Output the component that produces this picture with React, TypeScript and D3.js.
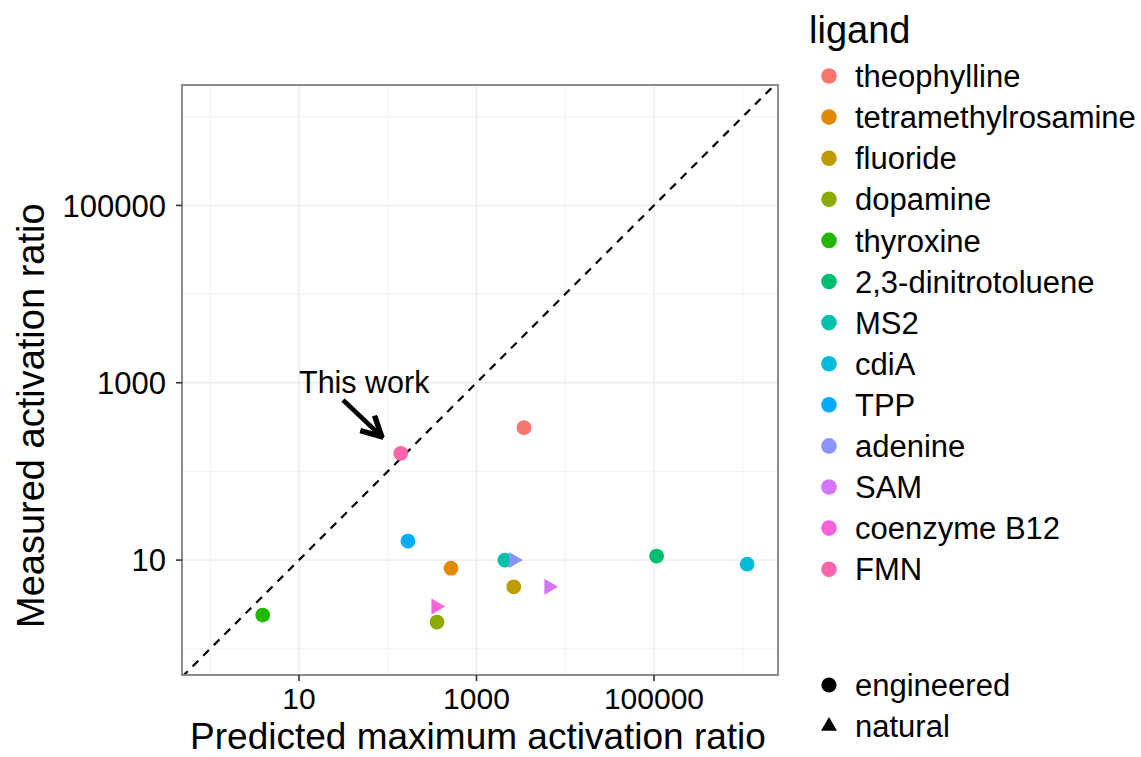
import * as d3 from "d3";
import React, { useRef, useEffect } from "react";

// ligand levels, in legend order, with ggplot's default hue palette
const ligands = [
  "theophylline", "tetramethylrosamine", "fluoride", "dopamine", "thyroxine",
  "2,3-dinitrotoluene", "MS2", "cdiA", "TPP", "adenine", "SAM", "coenzyme B12", "FMN",
];
const ligandColors = [
  "#F8766D", "#E18A00", "#BE9C00", "#8CAB00", "#24B700", "#00BE70", "#00C1AB",
  "#00BBDA", "#00ACFC", "#8B93FF", "#D575FE", "#F962DD", "#FF65AC",
];

// one point per ligand (same order as above)
const predicted = [3430, 516, 2630, 359, 3.9, 107000, 2090, 1120000, 169, 2630, 6560, 350, 140];
const measured = [311, 8.1, 5.0, 2.0, 2.4, 11.1, 10, 9.0, 16.4, 10, 5.0, 3.0, 160];
const origin = [
  "engineered", "engineered", "engineered", "engineered", "engineered", "engineered",
  "engineered", "engineered", "engineered", "natural", "natural", "natural", "engineered",
];

const originLevels = ["engineered", "natural"];
const majorTicks = [10, 1000, 100000];
const minorTicks = [1, 100, 10000, 1000000];

const FONT = "'Liberation Sans', Arial, Helvetica, sans-serif";

function App() {
  const ref = useRef(null);

  useEffect(() => {
    const svg = d3.select(ref.current);
    svg.selectAll("*").remove();

    const left = 182, right = 778, top = 85, bottom = 675;

    const x = d3.scaleLog()
      .domain([Math.pow(10, -0.318), Math.pow(10, 6.397)])
      .range([left, right]);
    const y = d3.scaleLog()
      .domain([Math.pow(10, -0.296), Math.pow(10, 6.358)])
      .range([bottom, top]);

    const defs = svg.append("defs");
    defs.append("clipPath").attr("id", "panel-clip")
      .append("rect")
      .attr("x", left).attr("y", top)
      .attr("width", right - left).attr("height", bottom - top);

    // panel background + grid
    svg.append("rect")
      .attr("x", left).attr("y", top)
      .attr("width", right - left).attr("height", bottom - top)
      .attr("fill", "white");

    const grid = svg.append("g");
    minorTicks.forEach(t => {
      grid.append("line")
        .attr("x1", x(t)).attr("x2", x(t)).attr("y1", top).attr("y2", bottom)
        .attr("stroke", "#f2f2f2").attr("stroke-width", 1);
      grid.append("line")
        .attr("x1", left).attr("x2", right).attr("y1", y(t)).attr("y2", y(t))
        .attr("stroke", "#f2f2f2").attr("stroke-width", 1);
    });
    majorTicks.forEach(t => {
      grid.append("line")
        .attr("x1", x(t)).attr("x2", x(t)).attr("y1", top).attr("y2", bottom)
        .attr("stroke", "#ebebeb").attr("stroke-width", 1.4);
      grid.append("line")
        .attr("x1", left).attr("x2", right).attr("y1", y(t)).attr("y2", y(t))
        .attr("stroke", "#ebebeb").attr("stroke-width", 1.4);
    });

    const panel = svg.append("g").attr("clip-path", "url(#panel-clip)");

    // y = x reference line
    const diag = [Math.min(x.domain()[0], y.domain()[0]), Math.max(x.domain()[1], y.domain()[1])];
    panel.append("line")
      .attr("x1", x(diag[0])).attr("y1", y(diag[0]))
      .attr("x2", x(diag[1])).attr("y2", y(diag[1]))
      .attr("stroke", "black")
      .attr("stroke-width", 2.2)
      .attr("stroke-dasharray", "8,7");

    // points
    const pts = ligands.map((l, i) => ({
      ligand: l, color: ligandColors[i], px: predicted[i], py: measured[i], origin: origin[i],
    }));

    panel.selectAll("circle.pt")
      .data(pts.filter(d => d.origin === "engineered"))
      .enter()
      .append("circle")
      .attr("class", "pt")
      .attr("cx", d => x(d.px))
      .attr("cy", d => y(d.py))
      .attr("r", 7.4)
      .attr("fill", d => d.color);

    const tri = d3.symbol().type(d3.symbolTriangle).size(110);
    panel.selectAll("path.pt")
      .data(pts.filter(d => d.origin === "natural"))
      .enter()
      .append("path")
      .attr("class", "pt")
      .attr("d", tri)
      .attr("transform", d => `translate(${x(d.px)},${y(d.py)}) rotate(90)`)
      .attr("fill", d => d.color);

    // annotation
    svg.append("text")
      .attr("x", 299).attr("y", 393)
      .attr("font-family", FONT).attr("font-size", 30.5)
      .attr("fill", "black")
      .text("This work");

    defs.append("marker")
      .attr("id", "arrowhead")
      .attr("viewBox", "0 0 10 10")
      .attr("refX", 8).attr("refY", 5)
      .attr("markerWidth", 5.5).attr("markerHeight", 5.5)
      .attr("markerUnits", "strokeWidth")
      .attr("orient", "auto")
      .append("path")
      .attr("d", "M1,0.8 L9,5 L1,9.2")
      .attr("fill", "none")
      .attr("stroke", "black")
      .attr("stroke-width", 2.2)
      .attr("stroke-linejoin", "miter");

    svg.append("line")
      .attr("x1", 343).attr("y1", 400)
      .attr("x2", 380).attr("y2", 435)
      .attr("stroke", "black")
      .attr("stroke-width", 4.5)
      .attr("marker-end", "url(#arrowhead)");

    // panel border
    svg.append("rect")
      .attr("x", left).attr("y", top)
      .attr("width", right - left).attr("height", bottom - top)
      .attr("fill", "none")
      .attr("stroke", "#808080")
      .attr("stroke-width", 1.8);

    // axes
    const xAxis = svg.append("g");
    majorTicks.forEach(t => {
      xAxis.append("line")
        .attr("x1", x(t)).attr("x2", x(t)).attr("y1", bottom).attr("y2", bottom + 6)
        .attr("stroke", "#333").attr("stroke-width", 1.6);
      xAxis.append("text")
        .attr("x", x(t)).attr("y", 709)
        .attr("text-anchor", "middle")
        .attr("font-family", FONT).attr("font-size", 30)
        .attr("fill", "black")
        .text(String(t));
    });

    const yAxis = svg.append("g");
    majorTicks.forEach(t => {
      yAxis.append("line")
        .attr("x1", left - 6).attr("x2", left).attr("y1", y(t)).attr("y2", y(t))
        .attr("stroke", "#333").attr("stroke-width", 1.6);
      yAxis.append("text")
        .attr("x", 166).attr("y", y(t))
        .attr("dy", "0.36em")
        .attr("text-anchor", "end")
        .attr("font-family", FONT).attr("font-size", 31)
        .attr("fill", "black")
        .text(String(t));
    });

    svg.append("text")
      .attr("x", 478).attr("y", 749)
      .attr("text-anchor", "middle")
      .attr("font-family", FONT).attr("font-size", 37)
      .attr("fill", "black")
      .text("Predicted maximum activation ratio");

    svg.append("text")
      .attr("transform", "translate(44,628) rotate(-90)")
      .attr("text-anchor", "start")
      .attr("font-family", FONT).attr("font-size", 38)
      .attr("fill", "black")
      .text("Measured activation ratio");

    // legends
    const legend = svg.append("g");
    legend.append("text")
      .attr("x", 809).attr("y", 43)
      .attr("font-family", FONT).attr("font-size", 38)
      .attr("fill", "black")
      .text("ligand");

    ligands.forEach((l, i) => {
      const cy = 76 + i * 41.1;
      legend.append("circle")
        .attr("cx", 829).attr("cy", cy).attr("r", 7.8)
        .attr("fill", ligandColors[i]);
      legend.append("text")
        .attr("x", 855).attr("y", cy)
        .attr("dy", "0.36em")
        .attr("font-family", FONT).attr("font-size", 31)
        .attr("fill", "black")
        .text(l);
    });

    const upTri = d3.symbol().type(d3.symbolTriangle).size(110);
    originLevels.forEach((o, i) => {
      const cy = 685 + i * 41.1;
      if (o === "engineered") {
        legend.append("circle")
          .attr("cx", 829).attr("cy", cy).attr("r", 7.6)
          .attr("fill", "black");
      } else {
        legend.append("path")
          .attr("d", upTri)
          .attr("transform", `translate(829,${cy})`)
          .attr("fill", "black");
      }
      legend.append("text")
        .attr("x", 855).attr("y", cy)
        .attr("dy", "0.36em")
        .attr("font-family", FONT).attr("font-size", 31)
        .attr("fill", "black")
        .text(o);
    });
  }, []);

  return (
    <div>
      <svg
        ref={ref}
        width={1141}
        height={757}
        style={{ position: "absolute", left: 0, top: 0, background: "white" }}
      />
    </div>
  );
}

export default App;
